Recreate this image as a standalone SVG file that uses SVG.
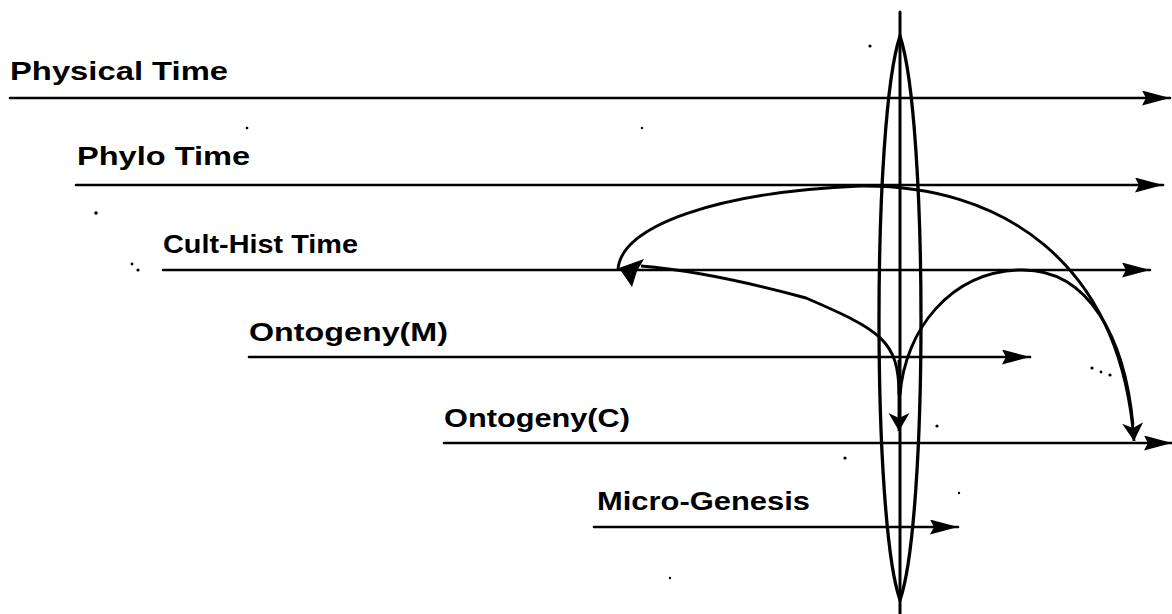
<svg xmlns="http://www.w3.org/2000/svg" width="1172" height="614" viewBox="0 0 1172 614">
<style>
.ln{stroke:#000;stroke-width:2.6;fill:none;stroke-linecap:round}
.cv{stroke:#000;stroke-width:2.9;fill:none}
.lb{font-family:"Liberation Sans",Arial,sans-serif;font-weight:bold;font-size:26px;fill:#000}
.dot{fill:#000}
</style>
<defs>
<marker id="ah" markerUnits="userSpaceOnUse" markerWidth="30" markerHeight="16" refX="28" refY="7.5" orient="auto" viewBox="0 0 30 16">
<path d="M0,0 L28,7.5 L0,15 L4,7.5 z" fill="#000"/>
</marker>
<marker id="ahs" markerUnits="userSpaceOnUse" markerWidth="20" markerHeight="22" refX="18" refY="10.5" orient="auto" viewBox="0 0 20 22">
<path d="M0,0 L18,10.5 L0,21 L5,10.5 z" fill="#000"/>
</marker>
</defs>

<g id="axis">
<line class="ln" style="stroke-width:3" x1="900" y1="12" x2="900" y2="614"/>
<path class="cv" style="stroke-width:3.3" d="M900,36 C928,120 928,520 900,600 C872,520 872,120 900,36 Z"/>
</g>

<g id="physical-time">
<text class="lb" x="10" y="80" textLength="218" lengthAdjust="spacingAndGlyphs">Physical Time</text>
<line class="ln" x1="10" y1="98" x2="1170" y2="98" marker-end="url(#ah)"/>
</g>
<g id="phylo-time">
<text class="lb" x="77" y="165" textLength="173" lengthAdjust="spacingAndGlyphs">Phylo Time</text>
<line class="ln" x1="76" y1="185" x2="1163" y2="185" marker-end="url(#ah)"/>
</g>
<g id="cult-hist-time">
<text class="lb" x="163" y="253" textLength="195" lengthAdjust="spacingAndGlyphs">Cult-Hist Time</text>
<line class="ln" x1="163" y1="270" x2="1150" y2="270" marker-end="url(#ah)"/>
</g>
<g id="ontogeny-m">
<text class="lb" x="249" y="341" textLength="199" lengthAdjust="spacingAndGlyphs">Ontogeny(M)</text>
<line class="ln" x1="249" y1="357" x2="1030" y2="357" marker-end="url(#ah)"/>
</g>
<g id="ontogeny-c">
<text class="lb" x="444" y="427" textLength="186" lengthAdjust="spacingAndGlyphs">Ontogeny(C)</text>
<line class="ln" x1="444" y1="443" x2="1172" y2="443" marker-end="url(#ah)"/>
</g>
<g id="micro-genesis">
<text class="lb" x="597" y="510" textLength="213" lengthAdjust="spacingAndGlyphs">Micro-Genesis</text>
<line class="ln" x1="594" y1="527" x2="958" y2="527" marker-end="url(#ah)"/>
</g>

<g id="connectors">
<path class="cv" d="M618,270 C620,225 720,192 860,186 C1000,184 1120,260 1134,441" marker-end="url(#ahs)"/>
<path class="cv" d="M900,395 C905,330 950,272 1020,270 C1090,268 1125,340 1133,425"/>
<path class="cv" d="M899,395 C899,340 880,330 806,298 C740,280 690,270 641,266"/>
<polygon points="619,268 644,259 637,271 632,287" fill="#000"/>
<path class="cv" d="M899,360 L899,431" marker-end="url(#ahs)"/>
</g>

<g id="specks">
<circle class="dot" cx="870" cy="46" r="1.6"/>
<circle class="dot" cx="247" cy="128" r="1.3"/>
<circle class="dot" cx="642" cy="128" r="1.2"/>
<circle class="dot" cx="96" cy="213" r="1.8"/>
<circle class="dot" cx="132" cy="264" r="1.4"/>
<circle class="dot" cx="138" cy="270" r="1.6"/>
<circle class="dot" cx="937" cy="426" r="1.6"/>
<circle class="dot" cx="845" cy="458" r="1.6"/>
<circle class="dot" cx="959" cy="493" r="1.2"/>
<circle class="dot" cx="670" cy="578" r="1.2"/>
<circle class="dot" cx="1092" cy="368" r="1.6"/>
<circle class="dot" cx="1101" cy="372" r="1.4"/>
<circle class="dot" cx="1110" cy="375" r="1.6"/>
</g>
</svg>
